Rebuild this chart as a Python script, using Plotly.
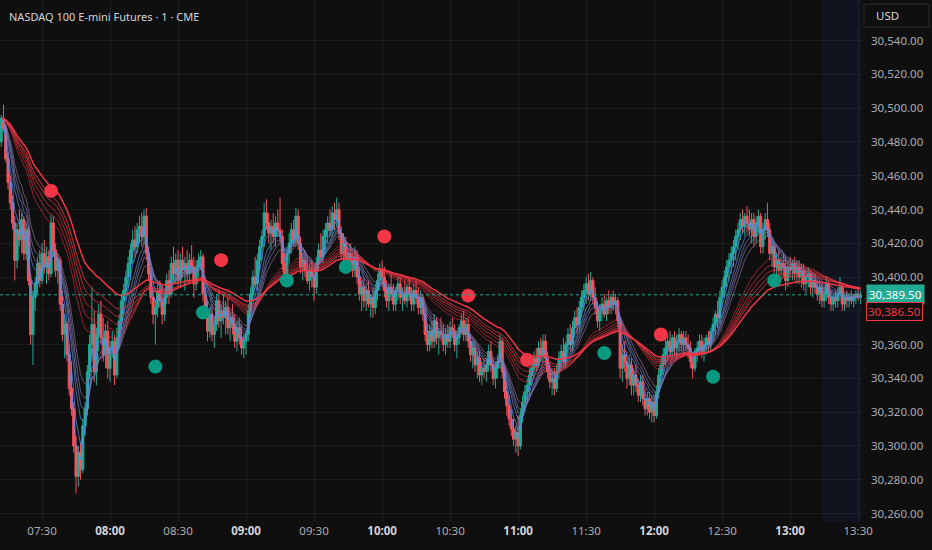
import pandas as pd
import plotly.graph_objects as go

# NQ 1-minute candles, 07:12 -> 13:31
day = "2025-06-18"
first_bar = day + " 07:12"

open_ = [
    30480, 30494, 30488, 30470, 30456, 30444, 30432, 30410, 30428, 30422,
    30434, 30414, 30428, 30398, 30366, 30388, 30396, 30408, 30398, 30414,
    30406, 30412, 30402, 30432, 30416, 30404, 30410, 30384, 30366, 30372,
    30354, 30334, 30322, 30300, 30282, 30296, 30286, 30312, 30322, 30344,
    30360, 30372, 30344, 30366, 30378, 30364, 30354, 30368, 30346, 30358,
    30362, 30342, 30364, 30374, 30386, 30392, 30400, 30408, 30416, 30422,
    30418, 30428, 30430, 30424, 30436, 30414, 30402, 30388, 30378, 30382,
    30392, 30386, 30378, 30388, 30398, 30390, 30408, 30402, 30410, 30398,
    30410, 30404, 30408, 30402, 30410, 30406, 30396, 30406, 30410, 30412,
    30390, 30380, 30368, 30378, 30366, 30372, 30386, 30374, 30380, 30376,
    30382, 30370, 30376, 30372, 30362, 30370, 30364, 30358, 30362, 30366,
    30380, 30390, 30400, 30396, 30410, 30418, 30424, 30438, 30432, 30426,
    30430, 30424, 30432, 30428, 30424, 30408, 30402, 30414, 30420, 30428,
    30422, 30436, 30420, 30406, 30410, 30404, 30398, 30404, 30400, 30394,
    30408, 30416, 30412, 30424, 30428, 30432, 30428, 30438, 30434, 30440,
    30426, 30414, 30420, 30408, 30414, 30410, 30404, 30412, 30400, 30390,
    30394, 30386, 30392, 30384, 30388, 30382, 30392, 30398, 30404, 30400,
    30392, 30386, 30394, 30390, 30384, 30392, 30396, 30388, 30390, 30386,
    30394, 30390, 30384, 30392, 30388, 30382, 30388, 30378, 30366, 30360,
    30368, 30362, 30374, 30364, 30368, 30366, 30360, 30366, 30362, 30370,
    30368, 30360, 30364, 30370, 30374, 30366, 30372, 30362, 30354, 30358,
    30348, 30352, 30342, 30346, 30344, 30348, 30356, 30348, 30340, 30346,
    30350, 30362, 30344, 30332, 30324, 30316, 30310, 30304, 30308, 30300,
    30318, 30326, 30332, 30336, 30342, 30346, 30352, 30348, 30358, 30354,
    30362, 30352, 30344, 30338, 30340, 30334, 30344, 30352, 30356, 30350,
    30360, 30366, 30360, 30370, 30376, 30372, 30382, 30388, 30392, 30396,
    30390, 30398, 30388, 30382, 30374, 30380, 30384, 30378, 30386, 30382,
    30388, 30384, 30386, 30374, 30346, 30354, 30350, 30340, 30348, 30336,
    30342, 30336, 30330, 30338, 30328, 30322, 30328, 30320, 30326, 30318,
    30332, 30342, 30348, 30354, 30358, 30362, 30356, 30364, 30358, 30362,
    30366, 30360, 30364, 30360, 30358, 30350, 30346, 30356, 30358, 30362,
    30356, 30360, 30364, 30360, 30368, 30372, 30378, 30376, 30388, 30394,
    30400, 30406, 30410, 30414, 30418, 30424, 30428, 30434, 30430, 30436,
    30432, 30428, 30434, 30424, 30432, 30436, 30418, 30428, 30434, 30428,
    30414, 30418, 30406, 30410, 30404, 30408, 30406, 30398, 30406, 30404,
    30408, 30402, 30406, 30400, 30404, 30396, 30400, 30402, 30394, 30398,
    30394, 30390, 30394, 30386, 30390, 30396, 30388, 30384, 30388, 30386,
    30390, 30394, 30384, 30388, 30386, 30388, 30386, 30388, 30390, 30388,
]

high = [
    30496, 30502, 30490, 30474, 30460, 30448, 30436, 30432, 30440, 30438,
    30436, 30432, 30430, 30402, 30392, 30400, 30412, 30416, 30420, 30422,
    30418, 30416, 30437, 30436, 30420, 30414, 30412, 30392, 30378, 30374,
    30360, 30350, 30326, 30306, 30300, 30302, 30316, 30326, 30348, 30366,
    30394, 30380, 30370, 30384, 30386, 30376, 30372, 30374, 30362, 30368,
    30366, 30370, 30378, 30390, 30396, 30404, 30412, 30420, 30428, 30430,
    30432, 30436, 30438, 30440, 30441, 30418, 30406, 30394, 30386, 30396,
    30398, 30396, 30392, 30402, 30404, 30412, 30418, 30414, 30416, 30414,
    30418, 30412, 30416, 30414, 30419, 30412, 30410, 30414, 30416, 30414,
    30394, 30386, 30382, 30384, 30376, 30390, 30392, 30384, 30390, 30386,
    30388, 30380, 30384, 30378, 30374, 30376, 30372, 30366, 30368, 30384,
    30394, 30404, 30412, 30414, 30422, 30428, 30444, 30446, 30438, 30434,
    30438, 30436, 30440, 30447, 30428, 30414, 30418, 30426, 30432, 30434,
    30441, 30440, 30424, 30414, 30416, 30412, 30408, 30410, 30406, 30412,
    30420, 30426, 30428, 30432, 30436, 30440, 30442, 30444, 30447, 30444,
    30430, 30426, 30424, 30418, 30420, 30414, 30418, 30416, 30406, 30398,
    30400, 30396, 30398, 30390, 30394, 30396, 30402, 30408, 30410, 30406,
    30398, 30396, 30402, 30396, 30394, 30400, 30400, 30394, 30398, 30396,
    30400, 30394, 30396, 30398, 30394, 30392, 30390, 30382, 30372, 30372,
    30374, 30378, 30376, 30370, 30376, 30372, 30370, 30372, 30374, 30376,
    30372, 30368, 30372, 30378, 30380, 30376, 30376, 30366, 30362, 30362,
    30356, 30356, 30350, 30352, 30352, 30360, 30362, 30352, 30350, 30354,
    30366, 30364, 30348, 30338, 30330, 30322, 30316, 30312, 30318, 30322,
    30330, 30336, 30340, 30346, 30350, 30356, 30358, 30362, 30364, 30366,
    30366, 30356, 30350, 30344, 30346, 30348, 30356, 30360, 30364, 30362,
    30370, 30372, 30374, 30380, 30382, 30386, 30392, 30396, 30400, 30402,
    30403, 30400, 30394, 30386, 30384, 30388, 30390, 30388, 30392, 30390,
    30392, 30390, 30388, 30376, 30360, 30362, 30356, 30354, 30352, 30346,
    30348, 30340, 30342, 30342, 30334, 30332, 30332, 30330, 30330, 30336,
    30346, 30352, 30358, 30364, 30366, 30368, 30366, 30368, 30366, 30370,
    30368, 30368, 30368, 30366, 30362, 30354, 30358, 30362, 30366, 30366,
    30364, 30366, 30368, 30370, 30376, 30380, 30386, 30392, 30398, 30404,
    30410, 30414, 30418, 30422, 30428, 30432, 30438, 30440, 30438, 30442,
    30440, 30438, 30438, 30436, 30440, 30438, 30432, 30438, 30444, 30432,
    30422, 30420, 30414, 30416, 30412, 30414, 30412, 30410, 30412, 30410,
    30412, 30410, 30410, 30408, 30408, 30404, 30406, 30404, 30402, 30402,
    30398, 30398, 30396, 30394, 30400, 30398, 30392, 30390, 30392, 30394,
    30400, 30396, 30390, 30392, 30390, 30392, 30390, 30392, 30394, 30392,
]

low = [
    30477, 30486, 30468, 30452, 30440, 30428, 30398, 30405, 30418, 30414,
    30410, 30410, 30395, 30360, 30348, 30380, 30390, 30394, 30396, 30402,
    30396, 30398, 30400, 30412, 30400, 30396, 30380, 30362, 30352, 30350,
    30330, 30318, 30296, 30272, 30276, 30280, 30284, 30306, 30318, 30340,
    30350, 30338, 30336, 30356, 30360, 30350, 30346, 30340, 30338, 30352,
    30336, 30340, 30358, 30368, 30378, 30386, 30394, 30398, 30408, 30412,
    30414, 30420, 30418, 30420, 30410, 30398, 30384, 30372, 30360, 30376,
    30382, 30372, 30374, 30384, 30384, 30388, 30398, 30396, 30394, 30394,
    30400, 30392, 30398, 30396, 30402, 30388, 30392, 30400, 30404, 30386,
    30376, 30362, 30364, 30362, 30358, 30368, 30370, 30364, 30372, 30366,
    30366, 30362, 30366, 30358, 30356, 30360, 30354, 30352, 30354, 30362,
    30376, 30386, 30394, 30392, 30404, 30410, 30418, 30428, 30420, 30416,
    30420, 30418, 30424, 30420, 30404, 30396, 30398, 30408, 30414, 30418,
    30418, 30416, 30402, 30398, 30400, 30396, 30392, 30394, 30386, 30390,
    30404, 30410, 30408, 30416, 30420, 30424, 30424, 30428, 30430, 30422,
    30410, 30408, 30404, 30402, 30404, 30400, 30400, 30396, 30386, 30380,
    30382, 30380, 30382, 30376, 30376, 30378, 30386, 30392, 30394, 30388,
    30382, 30380, 30386, 30380, 30380, 30386, 30384, 30380, 30384, 30382,
    30386, 30380, 30380, 30384, 30378, 30378, 30374, 30362, 30356, 30356,
    30358, 30358, 30360, 30354, 30362, 30356, 30354, 30358, 30358, 30364,
    30356, 30352, 30360, 30366, 30362, 30362, 30358, 30350, 30346, 30344,
    30340, 30338, 30336, 30340, 30338, 30344, 30344, 30336, 30334, 30340,
    30346, 30340, 30328, 30318, 30312, 30306, 30300, 30296, 30294, 30298,
    30314, 30320, 30326, 30330, 30336, 30340, 30344, 30346, 30350, 30350,
    30348, 30340, 30334, 30330, 30330, 30332, 30340, 30346, 30348, 30346,
    30354, 30356, 30356, 30364, 30366, 30368, 30376, 30380, 30384, 30386,
    30386, 30384, 30378, 30370, 30368, 30374, 30376, 30374, 30378, 30378,
    30380, 30378, 30370, 30340, 30338, 30344, 30334, 30336, 30330, 30330,
    30332, 30326, 30326, 30324, 30318, 30318, 30316, 30314, 30314, 30316,
    30328, 30338, 30342, 30348, 30350, 30352, 30352, 30354, 30352, 30356,
    30356, 30354, 30356, 30352, 30346, 30340, 30344, 30350, 30354, 30352,
    30350, 30354, 30356, 30356, 30362, 30366, 30370, 30372, 30382, 30388,
    30394, 30398, 30402, 30406, 30410, 30416, 30422, 30426, 30424, 30426,
    30424, 30420, 30418, 30420, 30426, 30414, 30414, 30422, 30424, 30410,
    30406, 30402, 30398, 30400, 30398, 30400, 30392, 30394, 30400, 30398,
    30398, 30396, 30396, 30394, 30392, 30390, 30394, 30390, 30388, 30390,
    30386, 30384, 30382, 30382, 30386, 30384, 30380, 30380, 30382, 30382,
    30386, 30380, 30380, 30382, 30382, 30384, 30382, 30384, 30386, 30384,
]

close = [
    30494, 30488, 30470, 30456, 30444, 30432, 30410, 30428, 30422, 30434,
    30414, 30428, 30398, 30366, 30388, 30396, 30408, 30398, 30414, 30406,
    30412, 30402, 30432, 30416, 30404, 30410, 30384, 30366, 30372, 30354,
    30334, 30322, 30300, 30282, 30296, 30286, 30312, 30322, 30344, 30360,
    30372, 30344, 30366, 30378, 30364, 30354, 30368, 30346, 30358, 30362,
    30342, 30364, 30374, 30386, 30392, 30400, 30408, 30416, 30422, 30418,
    30428, 30430, 30424, 30436, 30414, 30402, 30388, 30378, 30382, 30392,
    30386, 30378, 30388, 30398, 30390, 30408, 30402, 30410, 30398, 30410,
    30404, 30408, 30402, 30410, 30406, 30396, 30406, 30410, 30412, 30390,
    30380, 30368, 30378, 30366, 30372, 30386, 30374, 30380, 30376, 30382,
    30370, 30376, 30372, 30362, 30370, 30364, 30358, 30362, 30366, 30380,
    30390, 30400, 30396, 30410, 30418, 30424, 30438, 30432, 30426, 30430,
    30424, 30432, 30428, 30424, 30408, 30402, 30414, 30420, 30428, 30422,
    30436, 30420, 30406, 30410, 30404, 30398, 30404, 30400, 30394, 30408,
    30416, 30412, 30424, 30428, 30432, 30428, 30438, 30434, 30440, 30426,
    30414, 30420, 30408, 30414, 30410, 30404, 30412, 30400, 30390, 30394,
    30386, 30392, 30384, 30388, 30382, 30392, 30398, 30404, 30400, 30392,
    30386, 30394, 30390, 30384, 30392, 30396, 30388, 30390, 30386, 30394,
    30390, 30384, 30392, 30388, 30382, 30388, 30378, 30366, 30360, 30368,
    30362, 30374, 30364, 30368, 30366, 30360, 30366, 30362, 30370, 30368,
    30360, 30364, 30370, 30374, 30366, 30372, 30362, 30354, 30358, 30348,
    30352, 30342, 30346, 30344, 30348, 30356, 30348, 30340, 30346, 30350,
    30362, 30344, 30332, 30324, 30316, 30310, 30304, 30308, 30300, 30318,
    30326, 30332, 30336, 30342, 30346, 30352, 30348, 30358, 30354, 30362,
    30352, 30344, 30338, 30340, 30334, 30344, 30352, 30356, 30350, 30360,
    30366, 30360, 30370, 30376, 30372, 30382, 30388, 30392, 30396, 30390,
    30398, 30388, 30382, 30374, 30380, 30384, 30378, 30386, 30382, 30388,
    30384, 30386, 30374, 30346, 30354, 30350, 30340, 30348, 30336, 30342,
    30336, 30330, 30338, 30328, 30322, 30328, 30320, 30326, 30318, 30332,
    30342, 30348, 30354, 30358, 30362, 30356, 30364, 30358, 30362, 30366,
    30360, 30364, 30360, 30358, 30350, 30346, 30356, 30358, 30362, 30356,
    30360, 30364, 30360, 30368, 30372, 30378, 30376, 30388, 30394, 30400,
    30406, 30410, 30414, 30418, 30424, 30428, 30434, 30430, 30436, 30432,
    30428, 30434, 30424, 30432, 30436, 30418, 30428, 30434, 30428, 30414,
    30418, 30406, 30410, 30404, 30408, 30406, 30398, 30406, 30404, 30408,
    30402, 30406, 30400, 30404, 30396, 30400, 30402, 30394, 30398, 30394,
    30390, 30394, 30386, 30390, 30396, 30388, 30384, 30388, 30386, 30390,
    30394, 30384, 30388, 30386, 30388, 30386, 30388, 30390, 30388, 30389.5,
]

# signal dots
sell_times = ["07:34", "08:49", "10:01", "10:38", "11:04", "12:03"]
sell_prices = [30451, 30410, 30424, 30389, 30351, 30366]
buy_times = ["08:20", "08:41", "09:18", "09:44", "11:38", "12:26", "12:53"]
buy_prices = [30347, 30379, 30398, 30406, 30355, 30341, 30398]

# ribbon lengths
fast_spans = [3, 5, 8, 10, 12, 15]
slow_spans = [30, 35, 40, 45, 50, 60]

tick_times = ["07:30", "08:00", "08:30", "09:00", "09:30", "10:00", "10:30",
              "11:00", "11:30", "12:00", "12:30", "13:00", "13:30"]
price_ticks = [30260, 30280, 30300, 30320, 30340, 30360, 30400, 30420,
               30440, 30460, 30480, 30500, 30520, 30540]
hidden_grid = 30380  # its label sits under the price tags
ribbon_label = 30386.50

UP = "#22ab94"
DOWN = "#f7525f"
BG = "#0f0f0f"
GRID = "rgba(255,255,255,0.055)"

times = pd.date_range(first_bar, periods=len(close), freq="min")
closes = pd.Series(close, index=times)

fig = go.Figure()

fig.add_trace(go.Candlestick(
    x=times, open=open_, high=high, low=low, close=close,
    increasing=dict(line=dict(color=UP, width=1), fillcolor=UP),
    decreasing=dict(line=dict(color=DOWN, width=1), fillcolor=DOWN),
    whiskerwidth=0, hoverinfo="skip",
))

fast_colors = ["rgba(74,152,242,0.8)", "rgba(90,142,230,0.75)",
               "rgba(102,132,210,0.7)", "rgba(115,123,189,0.7)",
               "rgba(127,115,168,0.7)", "rgba(138,109,148,0.7)"]
for span, col in zip(fast_spans, fast_colors):
    ema = closes.ewm(span=span, adjust=False).mean()
    fig.add_trace(go.Scatter(x=times, y=ema, mode="lines",
                             line=dict(color=col, width=1), hoverinfo="skip"))

slow_alpha = [0.55, 0.6, 0.66, 0.72, 0.8, 1.0]
for span, a in zip(slow_spans, slow_alpha):
    ema = closes.ewm(span=span, adjust=False).mean()
    fig.add_trace(go.Scatter(x=times, y=ema, mode="lines",
                             line=dict(color=f"rgba(242,54,69,{a})",
                                       width=1.5 if a == 1.0 else 1),
                             hoverinfo="skip"))

fig.add_trace(go.Scatter(
    x=[day + " " + t for t in sell_times], y=sell_prices, mode="markers",
    marker=dict(size=14, color="#f23645"), hoverinfo="skip"))
fig.add_trace(go.Scatter(
    x=[day + " " + t for t in buy_times], y=buy_prices, mode="markers",
    marker=dict(size=14, color="#089981"), hoverinfo="skip"))

tick_text = []
for t in tick_times:
    if t.endswith(":00"):
        tick_text.append('<span style="color:#d1d4dc"><b>%s</b></span>' % t)
    else:
        tick_text.append(t)

last = close[-1]

fig.update_layout(
    width=932, height=550,
    paper_bgcolor=BG, plot_bgcolor=BG,
    margin=dict(l=0, r=70, t=0, b=28),
    showlegend=False,
    boxgap=0.05, boxgroupgap=0.05,
    font=dict(family="Noto Sans", size=11.5, color="#a9acb5"),
    xaxis=dict(
        type="date",
        range=[day + " 07:11:28", day + " 13:31:42"],
        tickvals=[day + " " + t for t in tick_times],
        ticktext=tick_text,
        showgrid=True, gridcolor=GRID, gridwidth=1,
        zeroline=False, showline=False, ticks="",
        rangeslider=dict(visible=False),
    ),
    yaxis=dict(
        side="right",
        range=[30255, 30564],
        tickvals=price_ticks,
        tickformat=",.2f",
        showgrid=True, gridcolor=GRID, gridwidth=1,
        zeroline=False, showline=False, ticks="",
        ticklabelstandoff=8,
    ),
    shapes=[
        # session shading
        dict(type="rect", xref="x", yref="paper",
             x0=day + " 13:14", x1=day + " 13:32", y0=0, y1=1,
             fillcolor="rgba(41,98,255,0.07)", line=dict(width=0), layer="below"),
        # grid line whose label is hidden
        dict(type="line", xref="paper", yref="y", x0=0, x1=1,
             y0=hidden_grid, y1=hidden_grid, line=dict(color=GRID, width=1),
             layer="below"),
        # last price line
        dict(type="line", xref="paper", yref="y", x0=0, x1=1, y0=last, y1=last,
             line=dict(color=UP, width=1, dash="dot")),
        # currency box
        dict(type="rect", xref="paper", yref="paper",
             x0=1.0023, x1=1.0777, y0=0.948, y1=0.992,
             line=dict(color="#2e2e2e", width=1)),
    ],
    annotations=[
        dict(text="NASDAQ 100 E-mini Futures · 1 · CME", xref="paper", yref="paper",
             x=0.008, y=0.969, xanchor="left", yanchor="middle", showarrow=False,
             font=dict(size=11, color="#d1d4dc")),
        dict(text="USD", xref="paper", yref="paper", x=1.014, y=0.970,
             xanchor="left", yanchor="middle", showarrow=False,
             font=dict(size=11.5, color="#d1d4dc")),
        dict(text=f"{last:,.2f}", xref="paper", yref="y", x=1.005, y=last,
             xanchor="left", yanchor="middle", showarrow=False,
             bgcolor=UP, borderpad=2, font=dict(size=11.5, color="#ffffff")),
        dict(text=f"{ribbon_label:,.2f}", xref="paper", yref="y", x=1.005, y=last,
             yshift=-17, xanchor="left", yanchor="middle", showarrow=False,
             bgcolor=BG, bordercolor="#f23645", borderwidth=1, borderpad=1,
             font=dict(size=11.5, color="#f23645")),
    ],
)

fig.write_html("out.html", config={"displayModeBar": False},
               post_script="document.body.style.margin='0';")
